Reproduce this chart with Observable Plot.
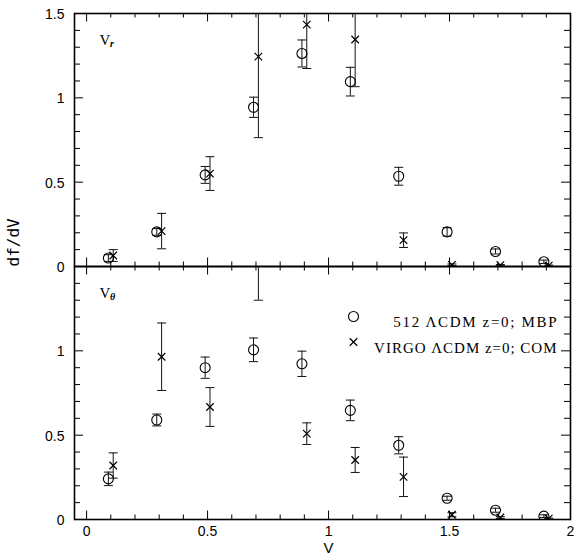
<!DOCTYPE html>
<html><head><meta charset="utf-8">
<script src="https://cdn.jsdelivr.net/npm/d3@7"></script>
<script src="https://cdn.jsdelivr.net/npm/@observablehq/plot@0.6"></script>
<style>
body{margin:0;background:#fff}
</style></head><body><div id="chart"></div>
<script>
// ---- data ----
const panels = ["r", "θ"];
const xMBP   = [0.09, 0.29, 0.49, 0.69, 0.89, 1.09, 1.29, 1.49, 1.69, 1.89];
const xVIRGO = [0.11, 0.31, 0.51, 0.71, 0.91, 1.11, 1.31, 1.51, 1.71, 1.91];

const vrMBP      = [0.05, 0.205, 0.543, 0.944, 1.263, 1.096, 0.535, 0.205, 0.089, 0.028];
const vrMBPErr   = [0.02, 0.02, 0.05, 0.06, 0.08, 0.085, 0.053, 0.025, 0.015, 0.01];
const vrVIRGO    = [0.065, 0.21, 0.551, 1.244, 1.434, 1.346, 0.156, 0.01, 0.008, 0.005];
const vrVIRGOErr = [0.035, 0.105, 0.1, 0.48, 0.26, 0.28, 0.043, 0.005, 0.004, 0.003];

const vtMBP      = [0.241, 0.59, 0.9, 1.006, 0.923, 0.647, 0.44, 0.126, 0.055, 0.02];
const vtMBPErr   = [0.04, 0.035, 0.063, 0.07, 0.075, 0.061, 0.051, 0.012, 0.012, 0.008];
const vtVIRGO    = [0.32, 0.965, 0.667, 1.65, 0.509, 0.353, 0.253, 0.028, 0.012, 0.005];
const vtVIRGOErr = [0.075, 0.2, 0.115, 0.35, 0.064, 0.074, 0.117, 0.012, 0.005, 0.003];

const legendLabels = ["512 ΛCDM z=0; MBP", "VIRGO ΛCDM z=0; COM"];
const xTickLabels = ["0", "0.5", "1", "1.5", "2"];
const xMinorTicks = [0.1, 0.2, 0.3, 0.4, 0.6, 0.7, 0.8, 0.9, 1.1, 1.2, 1.3, 1.4, 1.6, 1.7, 1.8, 1.9];
const yMajorTicks = [0, 0.5, 1, 1.5];
const yMinorTicks = [0.1, 0.2, 0.3, 0.4, 0.6, 0.7, 0.8, 0.9, 1.1, 1.2, 1.3, 1.4];
const topYLabels = ["0", "0.5", "1", "1.5"];
const bottomYLabels = ["0", "0.5", "1"];

// ---- tables ----
const rows = [];
function add(panel, series, xs, ys, es) {
  xs.forEach((x, i) => rows.push({panel, series, x, y: ys[i], e: es[i]}));
}
add("r", "MBP", xMBP, vrMBP, vrMBPErr);
add("r", "VIRGO", xVIRGO, vrVIRGO, vrVIRGOErr);
add("θ", "MBP", xMBP, vtMBP, vtMBPErr);
add("θ", "VIRGO", xVIRGO, vtVIRGO, vtVIRGOErr);
const yLabelRows = [
  ...topYLabels.map(l => ({panel: "r", y: +l, label: l})),
  ...bottomYLabels.map(l => ({panel: "θ", y: +l, label: l}))
];

// ---- layout ----
const W = 582, H = 557, mL = 74, mR = 12, mT = 12, mB = 38;
const fw = W - mL - mR, fh = (H - mT - mB) / 2;
const MAJ = 9, MIN = 5;
const sans = "Liberation Sans, Arial, sans-serif";
const serif = "Liberation Serif, Times New Roman, serif";
const mono = "DejaVu Sans Mono, monospace";
const hline = {draw(ctx, size) { const r = Math.sqrt(size / Math.PI); ctx.moveTo(-r, 0); ctx.lineTo(r, 0); }};
const xMajorVals = xTickLabels.map(Number);
const inPanel = p => () => p;

const marks = [
  // ticks (inside, all four sides)
  Plot.tickX(xMajorVals, {x: d => d, insetTop: fh - MAJ, stroke: "black"}),
  Plot.tickX(xMinorTicks, {x: d => d, insetTop: fh - MIN, stroke: "black"}),
  Plot.tickX(xMajorVals, {x: d => d, insetBottom: fh - MAJ, stroke: "black"}),
  Plot.tickX(xMinorTicks, {x: d => d, insetBottom: fh - MIN, stroke: "black"}),
  Plot.tickY(yMajorTicks, {y: d => d, insetRight: fw - MAJ, stroke: "black"}),
  Plot.tickY(yMinorTicks, {y: d => d, insetRight: fw - MIN - 1, stroke: "black"}),
  Plot.tickY(yMajorTicks, {y: d => d, insetLeft: fw - MAJ, stroke: "black"}),
  Plot.tickY(yMinorTicks, {y: d => d, insetLeft: fw - MIN - 1, stroke: "black"}),
  // error bars
  Plot.ruleX(rows, {fy: "panel", x: "x", y1: d => d.y - d.e, y2: d => d.y + d.e, stroke: "#111", strokeWidth: 1, clip: true}),
  Plot.dot(rows, {fy: "panel", x: "x", y: d => d.y - d.e, symbol: hline, r: 4.5, stroke: "#111", strokeWidth: 1, clip: true}),
  Plot.dot(rows, {fy: "panel", x: "x", y: d => d.y + d.e, symbol: hline, r: 4.5, stroke: "#111", strokeWidth: 1, clip: true}),
  // points
  Plot.dot(rows.filter(d => d.series === "MBP"), {fy: "panel", x: "x", y: "y", symbol: "circle", r: 5, stroke: "black", fill: "none", strokeWidth: 1.1, clip: true}),
  Plot.dot(rows.filter(d => d.series === "VIRGO"), {fy: "panel", x: "x", y: "y", symbol: "times", r: 3.5, stroke: "black", strokeWidth: 1.2, clip: true}),
  // frame
  Plot.frame({stroke: "black", strokeWidth: 1.6}),
  // y tick labels
  Plot.text(yLabelRows, {fy: "panel", y: "y", text: "label", frameAnchor: "left", textAnchor: "end", dx: -10, dy: 1, fontSize: 14, fontFamily: sans}),
  // x tick labels
  Plot.text(xTickLabels, {x: d => +d, text: d => d, fy: inPanel("θ"), frameAnchor: "bottom", lineAnchor: "top", dy: 7, fontSize: 14, fontFamily: sans}),
  // x title
  Plot.text(["V"], {x: () => 1, text: d => d, fy: inPanel("θ"), frameAnchor: "bottom", lineAnchor: "top", dy: 23, fontSize: 15, fontFamily: sans}),
  // y title
  Plot.text(["df/dV"], {text: d => d, fy: inPanel("r"), frameAnchor: "bottom-left", dx: -56, rotate: -90, fontSize: 16, fontFamily: mono}),
  // panel labels
  Plot.text(panels, {fy: d => d, text: () => "V", frameAnchor: "top-left", textAnchor: "start", dx: 25, dy: 21, fontSize: 15, fontFamily: serif}),
  Plot.text(panels, {fy: d => d, text: d => d, frameAnchor: "top-left", textAnchor: "start", dx: 35.5, dy: 26, fontSize: 10, fontStyle: "italic", fontWeight: "bold", fontFamily: serif}),
  // legend
  Plot.dot([legendLabels[0]], {fy: inPanel("θ"), frameAnchor: "top-left", dx: 279, dy: 50, symbol: "circle", r: 5, stroke: "black", fill: "none", strokeWidth: 1.1}),
  Plot.dot([legendLabels[1]], {fy: inPanel("θ"), frameAnchor: "top-left", dx: 279, dy: 75.5, symbol: "times", r: 3.5, stroke: "black", strokeWidth: 1.2}),
  Plot.text([legendLabels[0]], {text: d => d, fy: inPanel("θ"), frameAnchor: "top-right", textAnchor: "end", dx: -14, dy: 50, fontSize: 15, fontFamily: serif}),
  Plot.text([legendLabels[1]], {text: d => d, fy: inPanel("θ"), frameAnchor: "top-right", textAnchor: "end", dx: -14, dy: 75.5, fontSize: 15, fontFamily: serif})
];

const chart = Plot.plot({
  width: W, height: H,
  marginLeft: mL, marginRight: mR, marginTop: mT, marginBottom: mB,
  x: {domain: [-0.05, 2], axis: null},
  y: {domain: [0, 1.5], axis: null},
  fy: {domain: panels, axis: null, padding: 0},
  style: {background: "white", color: "black", fontFamily: sans},
  marks
});
// fixed-pitch spacing for the legend texts, as in the original plotting package
d3.select(chart).selectAll("text")
  .filter(function () { return legendLabels.includes(this.textContent); })
  .attr("textLength", function () { return this.textContent.length * 9.6; })
  .attr("lengthAdjust", "spacing");
document.getElementById("chart").appendChild(chart);
</script></body></html>
